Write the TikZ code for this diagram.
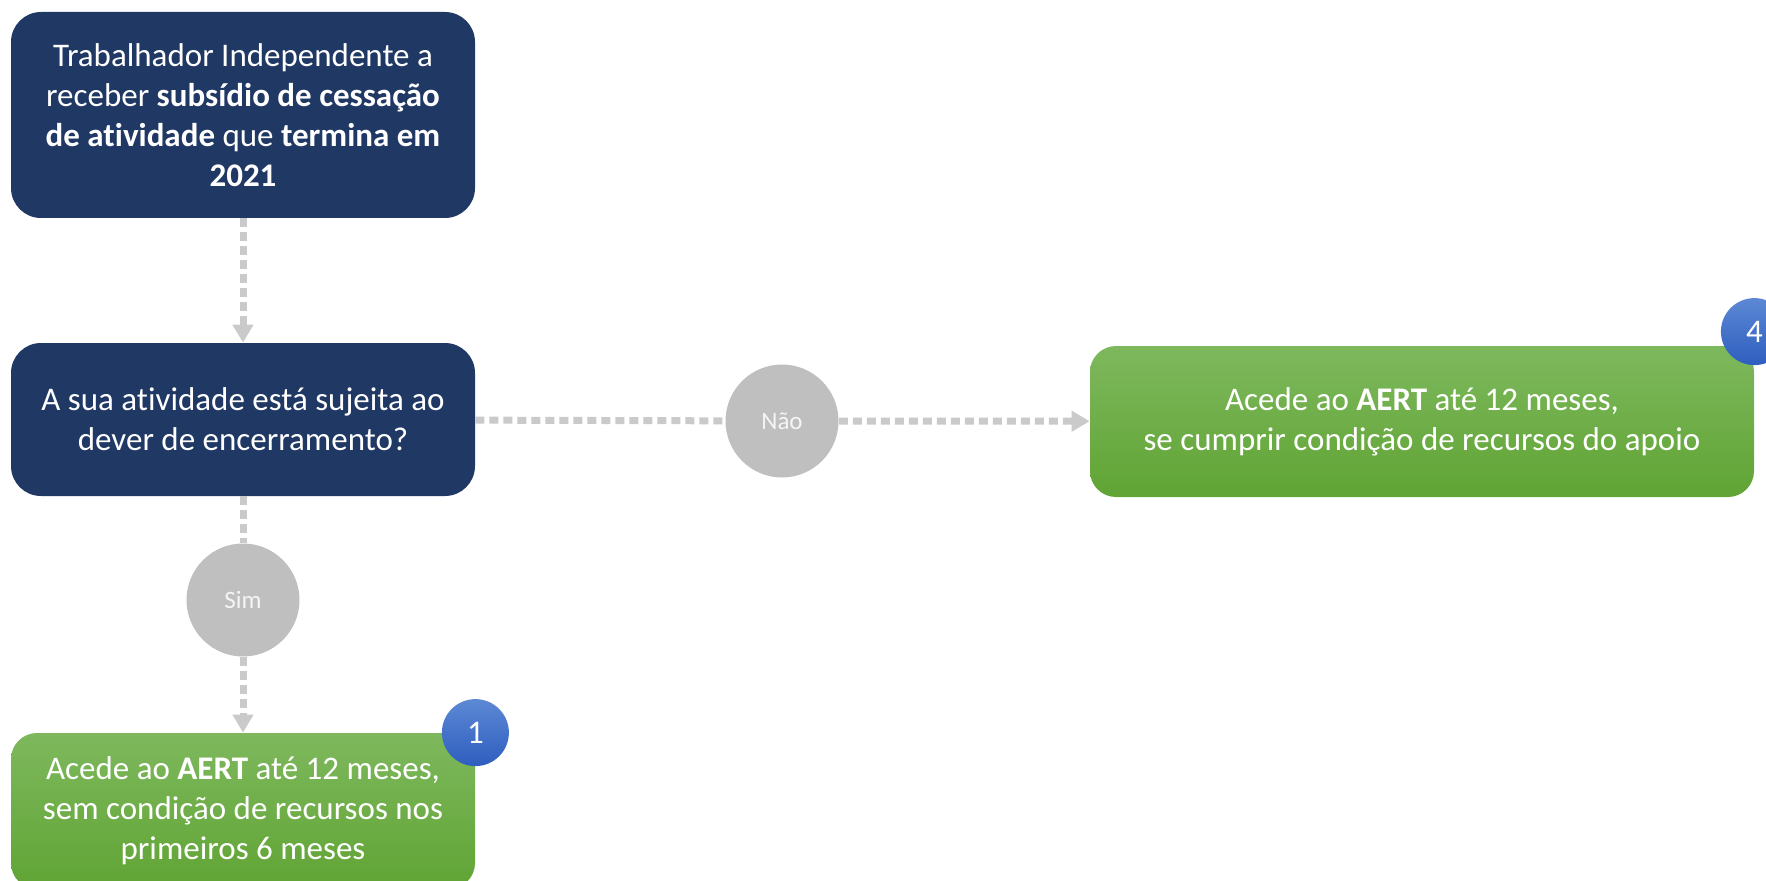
\documentclass[tikz,border=0pt]{standalone}
\usepackage{fontspec}
\setmainfont[Ligatures=NoCommon]{Carlito}
\usetikzlibrary{positioning,arrows.meta}
\definecolor{navybox}{HTML}{203864}
\definecolor{greentop}{HTML}{7EB85D}
\definecolor{greenbot}{HTML}{60A434}
\definecolor{badgetop}{HTML}{5C88D4}
\definecolor{badgebot}{HTML}{2E5EBF}
\definecolor{choicegray}{HTML}{BFBFBF}
\definecolor{linkgray}{HTML}{CACACA}

\begin{document}
\begin{tikzpicture}[x=0.5pt,y=0.5pt,
    boxfont/.style={font=\fontsize{16.5}{20}\selectfont},
    question/.style={rectangle, rounded corners=15pt, fill=navybox, text=white,
      minimum width=232pt, align=center, boxfont},
    outcome/.style={rectangle, rounded corners=13pt, top color=greentop,
      bottom color=greenbot, text=white, align=center, boxfont},
    choice/.style={circle, fill=choicegray, minimum size=56.5pt, inner sep=0pt,
      text=white!96!black, font=\fontsize{12.5}{14}\selectfont},
    badge/.style={circle, top color=badgetop, bottom color=badgebot,
      minimum size=33.5pt, inner sep=0pt, text=white, boxfont},
    link/.style={draw=linkgray, line width=3.5pt, dash pattern=on 4.5pt off 2.5pt},
    linkarrow/.style={link, -{Triangle[width=10pt,length=9pt]}}
  ]
  \useasboundingbox (0,0) rectangle (1766,880);
  % Define nodes
  \node[question, minimum height=103pt] (t) at (243,765)
    {Trabalhador Independente a\\receber \textbf{subsídio de cessação}\\
     \textbf{de atividade} que \textbf{termina em}\\\textbf{2021}};
  \node[question, minimum height=76.5pt] (q) at (243,460.5)
    {A sua atividade está sujeita ao\\dever de encerramento?};
  \node[choice] (s) at (243,280) {Sim};
  \node[choice] (n) at (782,459) {Não};
  \node[outcome, minimum width=232pt, minimum height=78pt] (g1) at (243,69)
    {Acede ao \textbf{AERT} até 12 meses,\\sem condição de recursos nos\\primeiros 6 meses};
  \node[outcome, minimum width=332pt, minimum height=75.5pt] (g4) at (1422,458.5)
    {Acede ao \textbf{AERT} até 12 meses,\\se cumprir condição de recursos do apoio};
  \node[badge] (b1) at (g1.north east) {1};
  \node[badge, yshift=7pt] (b4) at (g4.north east) {4};
  % Connect nodes
  \draw[linkarrow] (t) -- (q);
  \draw[link] (q) -- (s);
  \draw[linkarrow] (s) -- (g1);
  \draw[link] (q) -- (n);
  \draw[linkarrow] (n) -- (g4);
\end{tikzpicture}
\end{document}
